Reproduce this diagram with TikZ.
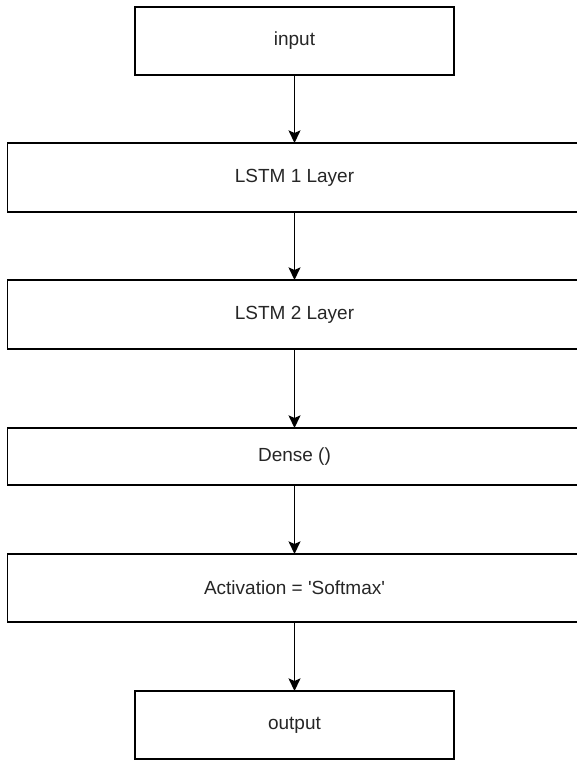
\documentclass[tikz,border=0pt]{standalone}
\usepackage{fontspec}
\setmainfont{Liberation Sans}
\usetikzlibrary{arrows.meta}

\tikzset{
	layerbox/.style={draw, line width=1pt, rectangle, inner sep=0pt, outer sep=0pt,
		font=\fontsize{14.25}{17}\selectfont, text=black!85},
	smallbox/.style={layerbox, minimum width=239.25pt, minimum height=51pt},
	widebox/.style={layerbox, minimum width=430.5pt, minimum height=51.75pt},
	flowarrow/.style={line width=1pt, -{Stealth[length=9.5pt, width=9pt, inset=2pt]}}
}

\begin{document}
\begin{tikzpicture}[x=0.75pt,y=0.75pt,yscale=-1,xscale=1]
	%set diagram to the size of the sheet
	\useasboundingbox (0,0) rectangle (577,761);

	% Layers
	\node [smallbox] (input) at (294.5,41) {input};
	\node [widebox] (lstmone) at (294.5,177.5) {LSTM 1 Layer};
	\node [widebox] (lstmtwo) at (294.5,314.5) {LSTM 2 Layer};
	\node [widebox, minimum height=42.75pt] (dense) at (294.5,456.5) {Dense ()};
	\node [widebox, minimum height=51pt] (activation) at (294.5,588) {Activation = \textquotesingle Softmax\textquotesingle};
	\node [smallbox] (output) at (294.5,725) {output};

	% Connections
	\draw [flowarrow] (input) -- (lstmone);
	\draw [flowarrow] (lstmone) -- (lstmtwo);
	\draw [flowarrow] (lstmtwo) -- (dense);
	\draw [flowarrow] (dense) -- (activation);
	\draw [flowarrow] (activation) -- (output);

\end{tikzpicture}
\end{document}
